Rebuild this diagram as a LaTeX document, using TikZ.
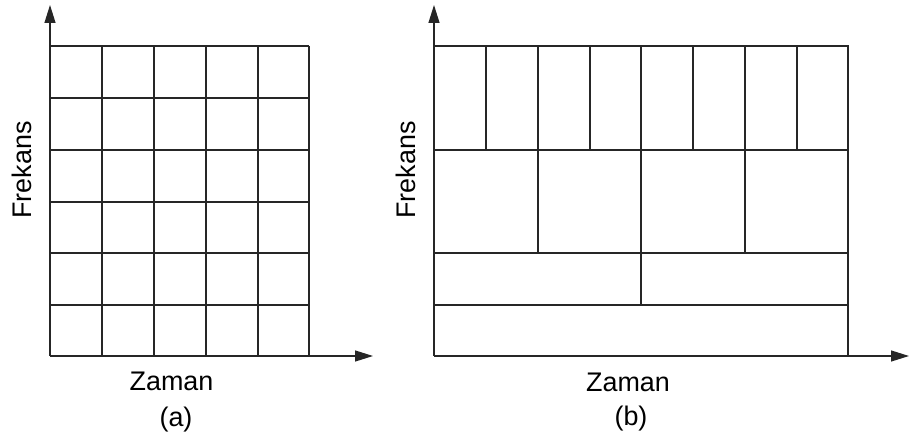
\documentclass[tikz,border=0pt]{standalone}
\usepackage{fontspec}
\setmainfont{Liberation Sans}
\usetikzlibrary{arrows.meta}
\begin{document}
\begin{tikzpicture}[x=1bp,y=-1bp,
  gridline/.style={line width=1.1bp,black!85},
  axisline/.style={line width=1.3bp,black!85,-{Triangle[length=18bp,width=11bp]}},
  lbl/.style={font=\fontsize{27}{32}\selectfont,inner sep=0pt}]
\useasboundingbox (0,0) rectangle (909,437);
% ---- (a) ----
\coordinate (ao) at (50,356);
\coordinate (ay) at (50,5);
\coordinate (ax) at (373,356);
\foreach \x in {102,154,206,258,309} \draw[gridline] (\x,46) -- (\x,356);
\foreach \y in {46,98,150,202,253,305} \draw[gridline] (50,\y) -- (309,\y);
\draw[axisline] (ao) -- (ay);
\draw[axisline] (ao) -- (ax);
\node[lbl,rotate=90] (fa) at (22,170) {Frekans};
\node[lbl,anchor=base] (za) at (171.5,390) {Zaman};
\node[lbl,anchor=base] (la) at (176,426) {(a)};
% ---- (b) ----
\coordinate (bo) at (434,356);
\coordinate (by) at (434,5);
\coordinate (bx) at (909,356);
\draw[gridline] (434,46) -- (848,46) -- (848,356);
\foreach \y in {150,253,305} \draw[gridline] (434,\y) -- (848,\y);
\foreach \x in {486,538,590,641,693,745,797} \draw[gridline] (\x,46) -- (\x,150);
\foreach \x in {538,641,745} \draw[gridline] (\x,150) -- (\x,253);
\draw[gridline] (641,253) -- (641,305);
\draw[axisline] (bo) -- (by);
\draw[axisline] (bo) -- (bx);
\node[lbl,rotate=90] (fb) at (406,170) {Frekans};
\node[lbl,anchor=base] (zb) at (628,391) {Zaman};
\node[lbl,anchor=base] (lb) at (631,425) {(b)};
\end{tikzpicture}
\end{document}
